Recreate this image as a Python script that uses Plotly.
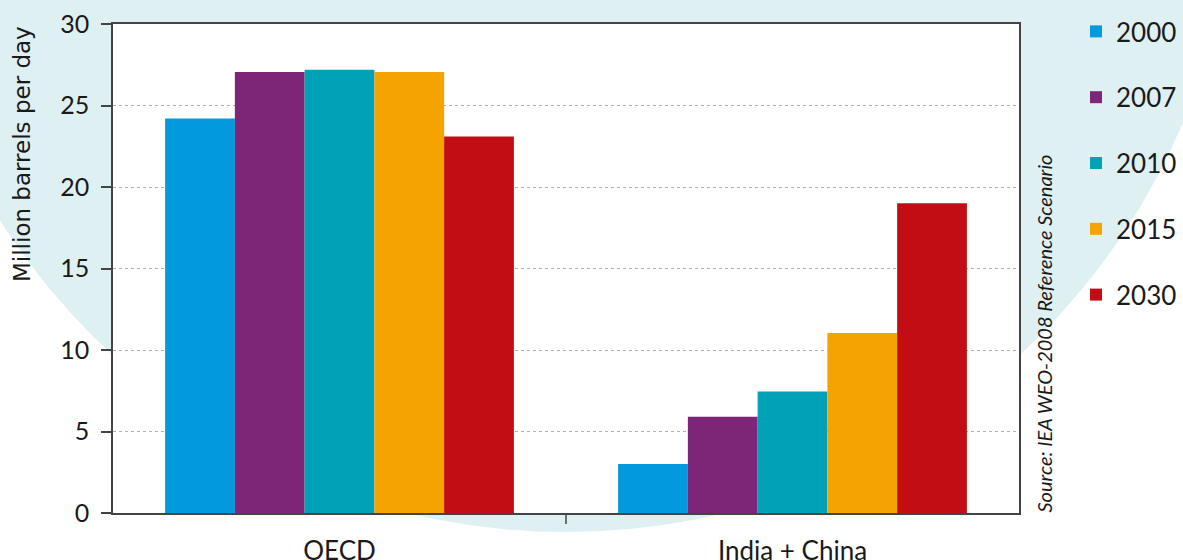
import plotly.graph_objects as go

categories = ["OECD", "India + China"]
years = ["2000", "2007", "2010", "2015", "2030"]
values_2000 = [24.2, 3.0]
values_2007 = [27.05, 5.9]
values_2010 = [27.2, 7.45]
values_2015 = [27.05, 11.05]
values_2030 = [23.1, 19.0]
series = [values_2000, values_2007, values_2010, values_2015, values_2030]
colors = ["#0399de", "#7d2677", "#01a2b7", "#f4a300", "#c20d14"]
y_ticks = [0, 5, 10, 15, 20, 25, 30]

FONT = "Lato"
W, H = 1183, 560
L, R, T, B = 113, 164, 24, 47
PW, PH = W - L - R, H - T - B


def px_x(px):
    return (px - L) / PW


def px_y(py):
    return (H - B - py) / PH


fig = go.Figure()
for yr, vals, col in zip(years, series, colors):
    fig.add_trace(go.Bar(
        x=categories, y=vals, name=yr, legendgroup=yr,
        marker=dict(color=col, line=dict(width=0)),
    ))

# background disc (centre ~ (566,-138) px, radius ~670 px)
cx, cy, r = 566, -137.6, 669.6

fig.update_layout(
    width=W, height=H, autosize=False,
    barmode="group",
    bargap=0.23,
    bargroupgap=0,
    paper_bgcolor="white",
    plot_bgcolor="white",
    margin=dict(l=L, r=R, t=T, b=B, pad=0, autoexpand=False),
    font=dict(family=FONT, color="#1a1a1a"),
    showlegend=True,
    legend=dict(
        x=px_x(1076), xanchor="left", y=px_y(8), yanchor="top",
        font=dict(size=26, family=FONT, color="#1a1a1a"),
        traceorder="grouped", tracegroupgap=29,
        bgcolor="rgba(0,0,0,0)", borderwidth=0, maxheight=1,
    ),
    xaxis=dict(
        showline=True, linecolor="#444444", linewidth=1.5, mirror=True,
        ticks="", showgrid=False, automargin=False,
        tickfont=dict(size=26, family=FONT, color="#1a1a1a"),
        ticklabelstandoff=14,
    ),
    yaxis=dict(
        range=[0, 30], tickvals=y_ticks, automargin=False,
        showline=True, linecolor="#444444", linewidth=1.5, mirror=True,
        ticks="outside", ticklen=10, tickwidth=1.5, tickcolor="#444444",
        showgrid=True, gridcolor="#b0b0b0", gridwidth=1.2, griddash="dot",
        zeroline=False,
        tickfont=dict(size=25, family=FONT, color="#1a1a1a"),
        ticklabelstandoff=7,
    ),
    shapes=[
        dict(type="circle", xref="paper", yref="paper",
             x0=px_x(cx - r), x1=px_x(cx + r), y0=px_y(cy + r), y1=px_y(cy - r),
             fillcolor="#dff0f3", line=dict(width=0), layer="below"),
        dict(type="rect", xref="paper", yref="paper",
             x0=0, x1=1, y0=0, y1=1,
             fillcolor="white", line=dict(width=0), layer="below"),
        dict(type="line", xref="paper", yref="paper", ysizemode="pixel",
             yanchor=0, x0=0.5, x1=0.5, y0=0, y1=-11,
             line=dict(color="#444444", width=1.5), layer="above"),
    ],
    annotations=[
        dict(text="Million barrels per day", xref="paper", yref="paper",
             x=px_x(22), y=px_y(154), xanchor="center", yanchor="middle",
             textangle=-90, showarrow=False,
             font=dict(size=23, family="DejaVu Sans", color="#1a1a1a")),
        dict(text="<i>Source: IEA WEO-2008 Reference Scenario</i>",
             xref="paper", yref="paper",
             x=px_x(1043.5), y=px_y(334),
             xanchor="center", yanchor="middle",
             textangle=-90, showarrow=False,
             font=dict(size=20, family=FONT, color="#1a1a1a")),
    ],
)

fig.write_html(
    "out.html",
    config={"displayModeBar": False},
    post_script="document.body.style.margin='0px';document.body.style.overflow='hidden';",
)
